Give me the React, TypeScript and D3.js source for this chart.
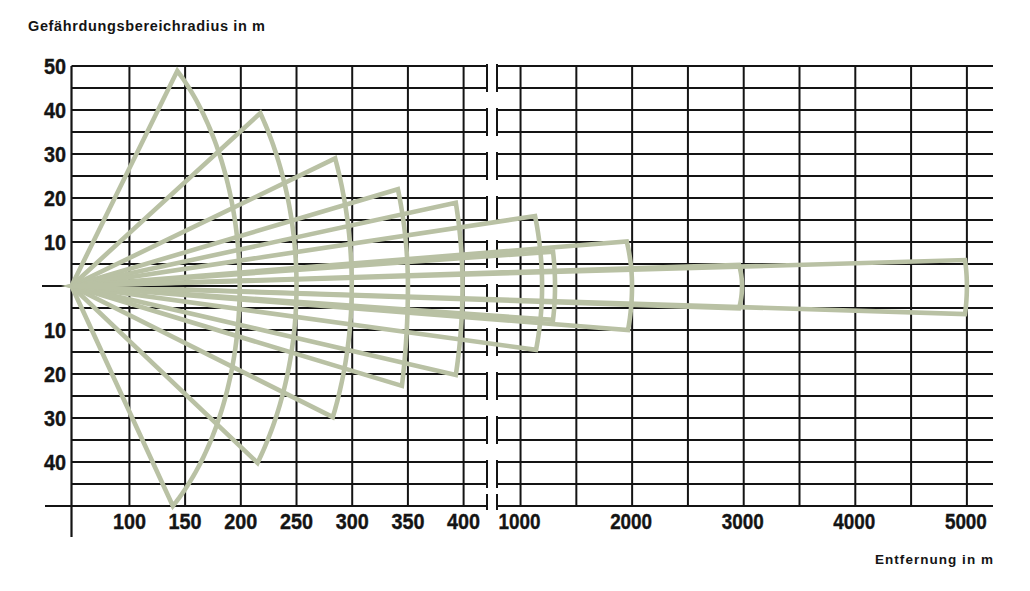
import React from 'react';
import * as d3 from 'd3';

const W = 1030;
const H = 591;

// Gefährdungsbereich sectors (metres)
const sectorTopX = [143, 217.5, 284.7, 341, 393, 1130, 1291, 1952, 2958, 4983];
const sectorTopR = [48.9, 39.3, 29, 22, 18.9, 15.9, 7.8, 10.1, 4.8, 5.9];
const sectorBotX = [139, 215, 282.6, 344.6, 393, 1139, 1291, 1963, 2958, 4983];
const sectorBotR = [50, 40.2, 29.8, 22.7, 20.2, 14.5, 7.7, 10, 5.1, 6.4];
const sectorReach = [199, 250, 299.6, 350, 399, 1193, 1309, 1999, 2985, 5000];

// axes
const xLeftTicks = [100, 150, 200, 250, 300, 350, 400];
const xRightGrid = [1000, 1500, 2000, 2500, 3000, 3500, 4000, 4500, 5000];
const xRightTicks = [1000, 2000, 3000, 4000, 5000];
const yGrid = d3.range(-50, 51, 5);
const yTicksUp = [50, 40, 30, 20, 10];
const yTicksDown = [-10, -20, -30, -40];

const LEFT_MAX = 421;
const xL = d3.scaleLinear().domain([48, LEFT_MAX]).range([71.5, 487]);
const xR = d3.scaleLinear().domain([789, 5234]).range([497, 993]);
const X = (v: number) => (v <= LEFT_MAX ? xL(v) : xR(v));
const y = d3.scaleLinear().domain([-50, 50]).range([506, 66]);

const GREEN = '#b9c1a4';
const INK = '#141414';
const NUM_FONT = "'Liberation Sans', Arial, sans-serif";

function sectorPath(i: number): string {
  const ox = X(48);
  const oy = y(0);
  const rx = X(sectorReach[i]) - ox;
  const half = (cxv: number, rv: number, up: boolean) => {
    const cx = X(cxv) - ox;
    const cy = y(up ? rv : -rv) - oy;
    const c = Math.min(cx / rx, 0.9995);
    const t = Math.acos(c);
    const b = cy / Math.sin(t);
    const pts: [number, number][] = [];
    const n = 40;
    for (let k = 0; k <= n; k++) {
      const th = t * (1 - k / n);
      pts.push([ox + rx * Math.cos(th), oy + b * Math.sin(th)]);
    }
    return pts;
  };
  const upper = half(sectorTopX[i], sectorTopR[i], true);
  const lower = half(sectorBotX[i], sectorBotR[i], false).reverse();
  const pts: [number, number][] = [[ox, oy], ...upper, ...lower.slice(1)];
  return (d3.line()(pts) || '') + 'Z';
}

export default function App() {
  const gridTop = y(50);
  const gridBot = y(-50);
  const breakL = xL(LEFT_MAX);
  const breakR = xR.range()[0];
  const right = xR.range()[1];
  const x0 = X(48);

  const breakSegs: [number, number][] = [];
  for (let k = 0; k < yGrid.length; k += 2) {
    const a = y(yGrid[yGrid.length - 1 - k]);
    const bIdx = yGrid.length - 2 - k;
    const b = bIdx >= 0 ? y(yGrid[bIdx]) : a;
    breakSegs.push([bIdx >= 0 ? a - 2 : a - 12, b + 4]);
  }

  return (
    <div style={{ position: 'absolute', left: 0, top: 0 }}>
      <svg width={W} height={H} style={{ display: 'block', background: '#fff' }}>
        {yGrid.map((v) => (
          <g key={'h' + v}>
            <line x1={v === -50 ? 45 : x0} x2={breakL} y1={y(v)} y2={y(v)} stroke={INK} strokeWidth={2} />
            <line x1={breakR} x2={right} y1={y(v)} y2={y(v)} stroke={INK} strokeWidth={2} />
          </g>
        ))}
        {xLeftTicks.map((v) => (
          <line key={'vl' + v} x1={xL(v)} x2={xL(v)} y1={gridTop} y2={gridBot} stroke={INK} strokeWidth={2} />
        ))}
        {xRightGrid.map((v) => (
          <line key={'vr' + v} x1={xR(v)} x2={xR(v)} y1={gridTop} y2={gridBot} stroke={INK} strokeWidth={2} />
        ))}
        <line x1={x0} x2={x0} y1={gridTop} y2={537} stroke={INK} strokeWidth={2.2} />
        <line x1={42} x2={right} y1={y(0)} y2={y(0)} stroke={INK} strokeWidth={1.8} strokeDasharray="50 10 7 10 7 10" />
        <rect x={breakL + 1} y={gridTop - 4} width={breakR - breakL - 2} height={gridBot - gridTop + 10} fill="#fff" />
        {breakSegs.map(([a, b], i) => (
          <g key={'bk' + i}>
            <line x1={breakL} x2={breakL} y1={a} y2={b} stroke={INK} strokeWidth={2} />
            <line x1={breakR} x2={breakR} y1={a} y2={b} stroke={INK} strokeWidth={2} />
          </g>
        ))}
        {sectorReach.map((_, i) => (
          <path key={'s' + i} d={sectorPath(i)} fill="none" stroke={GREEN} strokeWidth={4.6} strokeLinejoin="miter" strokeMiterlimit={6} />
        ))}
        {[...yTicksUp, ...yTicksDown].map((v) => {
          const s = String(Math.abs(v));
          return (
            <text key={'yl' + v} x={66} y={y(v) + 8} textAnchor="end" fontFamily={NUM_FONT} fontWeight="bold" fontSize={22.5}
              textLength={s.length * 11} lengthAdjust="spacingAndGlyphs" fill={INK} stroke={INK} strokeWidth={0.4}>
              {s}
            </text>
          );
        })}
        {xLeftTicks.map((v) => (
          <text key={'xl' + v} x={xL(v)} y={528.5} textAnchor="middle" fontFamily={NUM_FONT} fontWeight="bold" fontSize={22.5}
            textLength={33} lengthAdjust="spacingAndGlyphs" fill={INK} stroke={INK} strokeWidth={0.4}>
            {v}
          </text>
        ))}
        {xRightTicks.map((v) => (
          <text key={'xr' + v} x={xR(v) - 1} y={528.5} textAnchor="middle" fontFamily={NUM_FONT} fontWeight="bold" fontSize={22.5}
            textLength={42} lengthAdjust="spacingAndGlyphs" fill={INK} stroke={INK} strokeWidth={0.4}>
            {v}
          </text>
        ))}
        <text x={28} y={30.5} fontFamily={NUM_FONT} fontWeight="bold" fontSize={14.5} textLength={237} lengthAdjust="spacing" fill={INK}>
          Gefährdungsbereichradius in m
        </text>
        <text x={993} y={564} textAnchor="end" fontFamily={NUM_FONT} fontWeight="bold" fontSize={13.5} textLength={118} lengthAdjust="spacing" fill={INK}>
          Entfernung in m
        </text>
      </svg>
    </div>
  );
}
